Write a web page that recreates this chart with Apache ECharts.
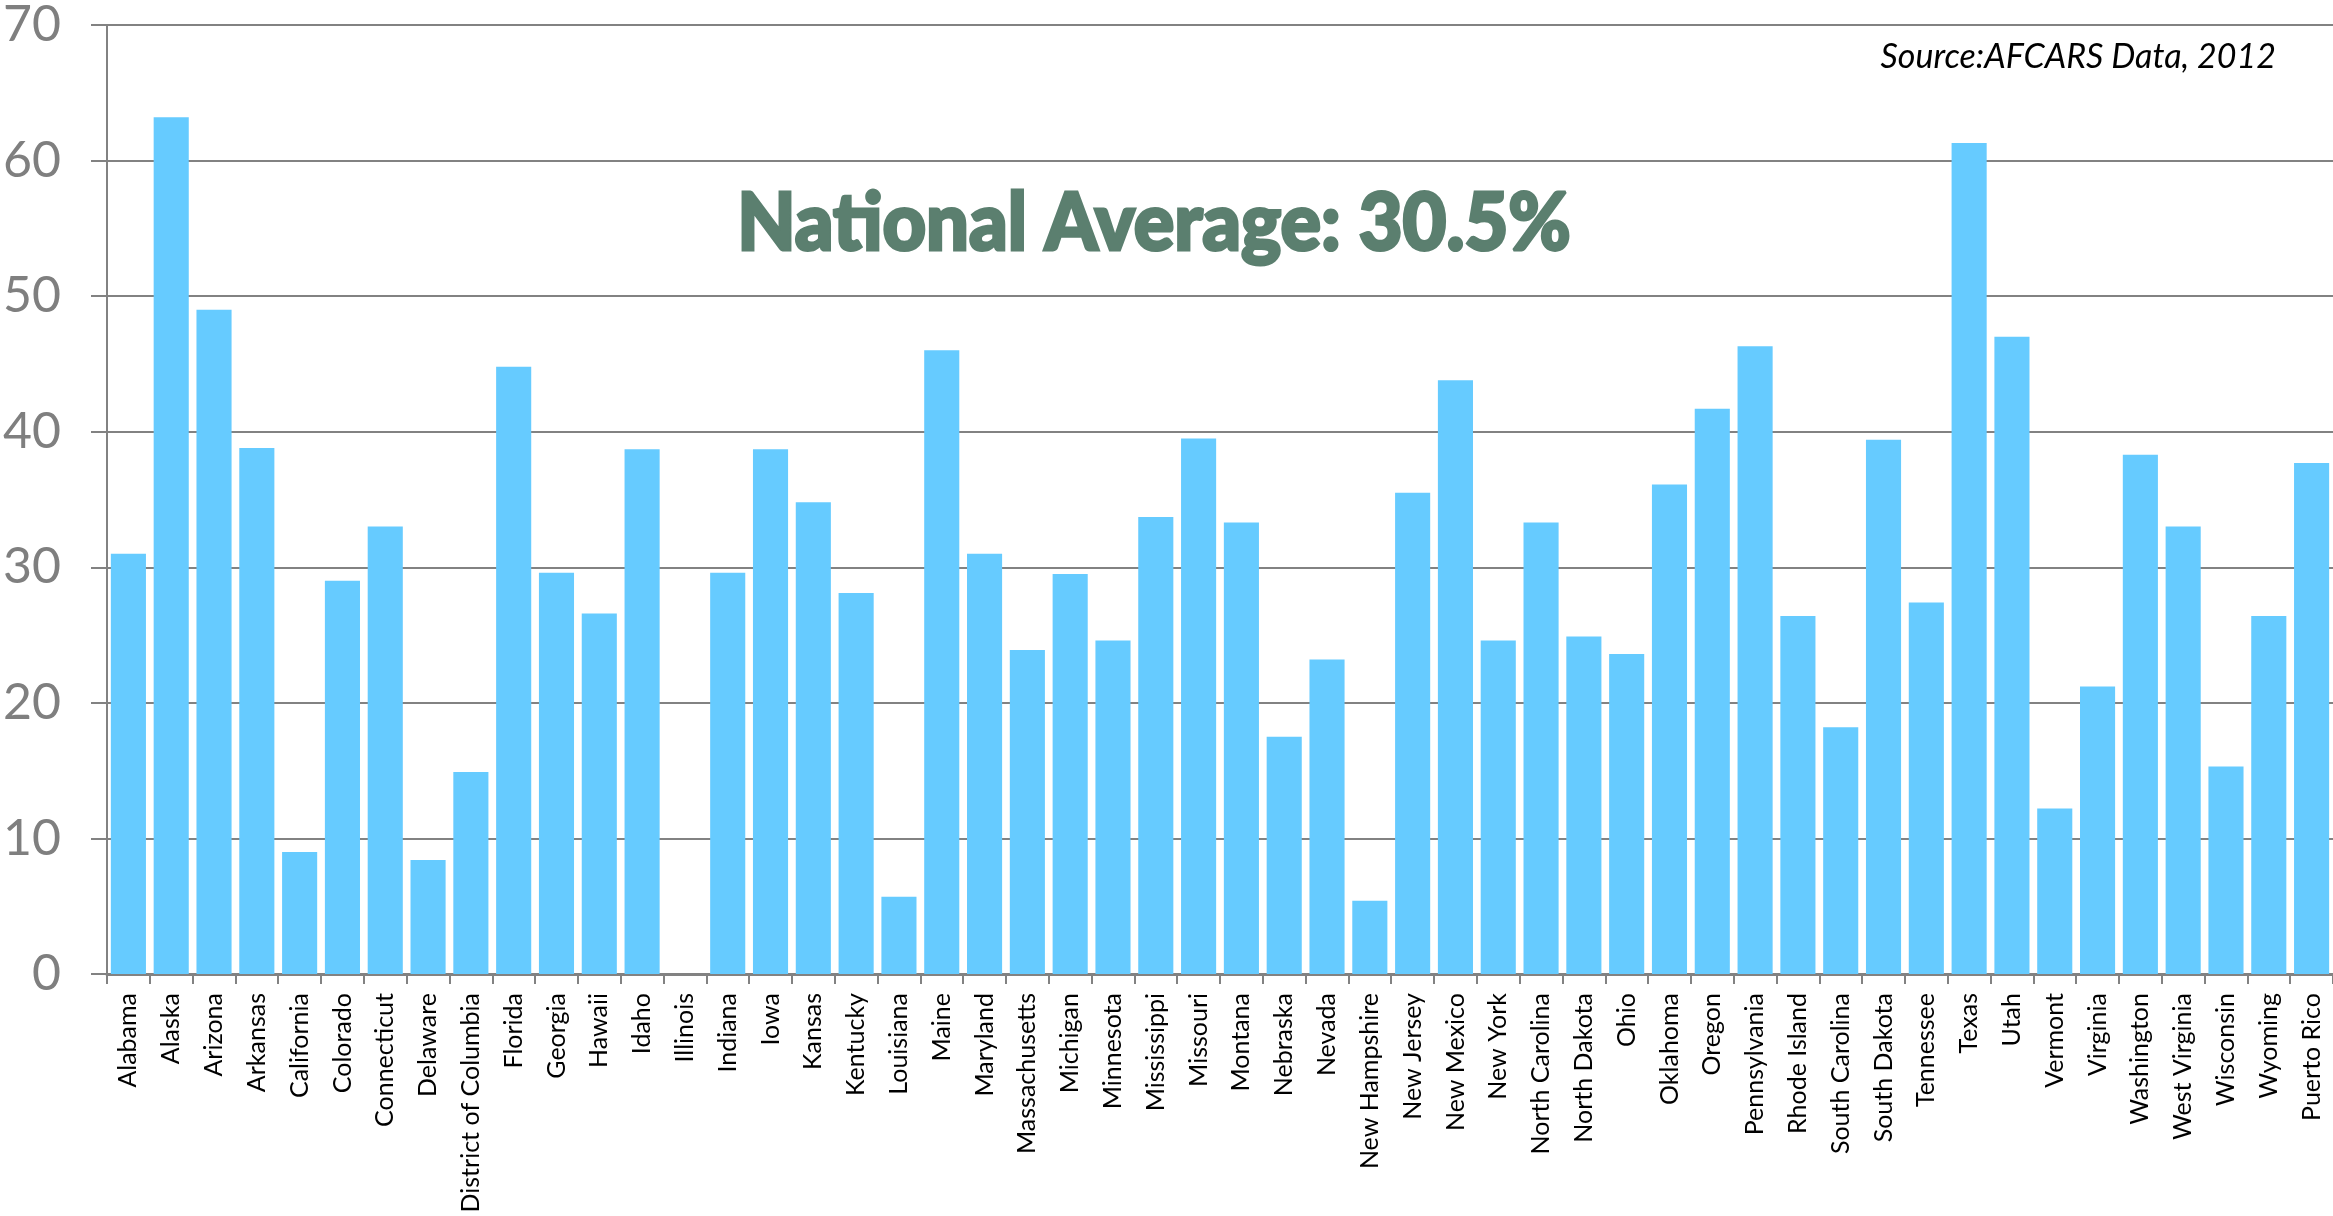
<!DOCTYPE html>
<html>
<head>
<meta charset="utf-8">
<script src="https://cdn.jsdelivr.net/npm/echarts@6/dist/echarts.min.js"></script>
<style>html,body{margin:0;padding:0;background:#fff}#c{width:2333px;height:1216px}</style>
</head>
<body>
<div id="c"></div>
<script>
const categories = ["Alabama","Alaska","Arizona","Arkansas","California","Colorado","Connecticut","Delaware","District of Columbia","Florida","Georgia","Hawaii","Idaho","Illinois","Indiana","Iowa","Kansas","Kentucky","Louisiana","Maine","Maryland","Massachusetts","Michigan","Minnesota","Mississippi","Missouri","Montana","Nebraska","Nevada","New Hampshire","New Jersey","New Mexico","New York","North Carolina","North Dakota","Ohio","Oklahoma","Oregon","Pennsylvania","Rhode Island","South Carolina","South Dakota","Tennessee","Texas","Utah","Vermont","Virginia","Washington","West Virginia","Wisconsin","Wyoming","Puerto Rico"];
const values = [31.0,63.2,49.0,38.8,9.0,29.0,33.0,8.4,14.9,44.8,29.6,26.6,38.7,0,29.6,38.7,34.8,28.1,5.7,46.0,31.0,23.9,29.5,24.6,33.7,39.5,33.3,17.5,23.2,5.4,35.5,43.8,24.6,33.3,24.9,23.6,36.1,41.7,46.3,26.4,18.2,39.4,27.4,61.3,47.0,12.2,21.2,38.3,33.0,15.3,26.4,37.7];
const yTicks = [0,10,20,30,40,50,60,70];
const headline = "National Average: 30.5%";
const sourceNote = "Source:AFCARS Data, 2012";

const chart = echarts.init(document.getElementById('c'));
chart.setOption({
  animation: false,
  backgroundColor: '#ffffff',
  grid: { left: 101, right: 0, top: 23.5, bottom: 242, containLabel: false },
  xAxis: {
    type: 'category',
    data: categories,
    axisLine: { lineStyle: { color: '#828282', width: 3 } },
    axisTick: { show: true, length: 10, lineStyle: { color: '#828282', width: 2 } },
    axisLabel: { rotate: 90, interval: 0, margin: 19, color: '#000', fontFamily: 'Lato', fontSize: 25 }
  },
  yAxis: {
    type: 'value',
    min: yTicks[0], max: yTicks[yTicks.length-1], interval: 10,
    axisLine: { show: true, lineStyle: { color: '#828282', width: 2 } },
    axisTick: { show: true, length: 16, lineStyle: { color: '#828282', width: 2 } },
    axisLabel: { margin: 46, color: '#7f7f7f', fontFamily: 'Lato', fontSize: 50 },
    splitLine: { lineStyle: { color: '#828282', width: 2 } }
  },
  series: [{
    type: 'bar',
    data: values,
    barCategoryGap: '18%',
    itemStyle: { color: '#66CBFF' }
  }],
  graphic: [
    { type: 'text', x: 1154, y: 184, scaleX: 0.945, originX: 0,
      style: { text: headline, fill: '#5B7F6F', stroke: '#5B7F6F', lineWidth: 3, font: '900 80px Lato', align: 'center', verticalAlign: 'top' } },
    { type: 'text', x: 2276, y: 40,
      style: { text: sourceNote, fill: '#000', font: 'italic 34px Lato', align: 'right', verticalAlign: 'top' } }
  ]
});
</script>
</body>
</html>
